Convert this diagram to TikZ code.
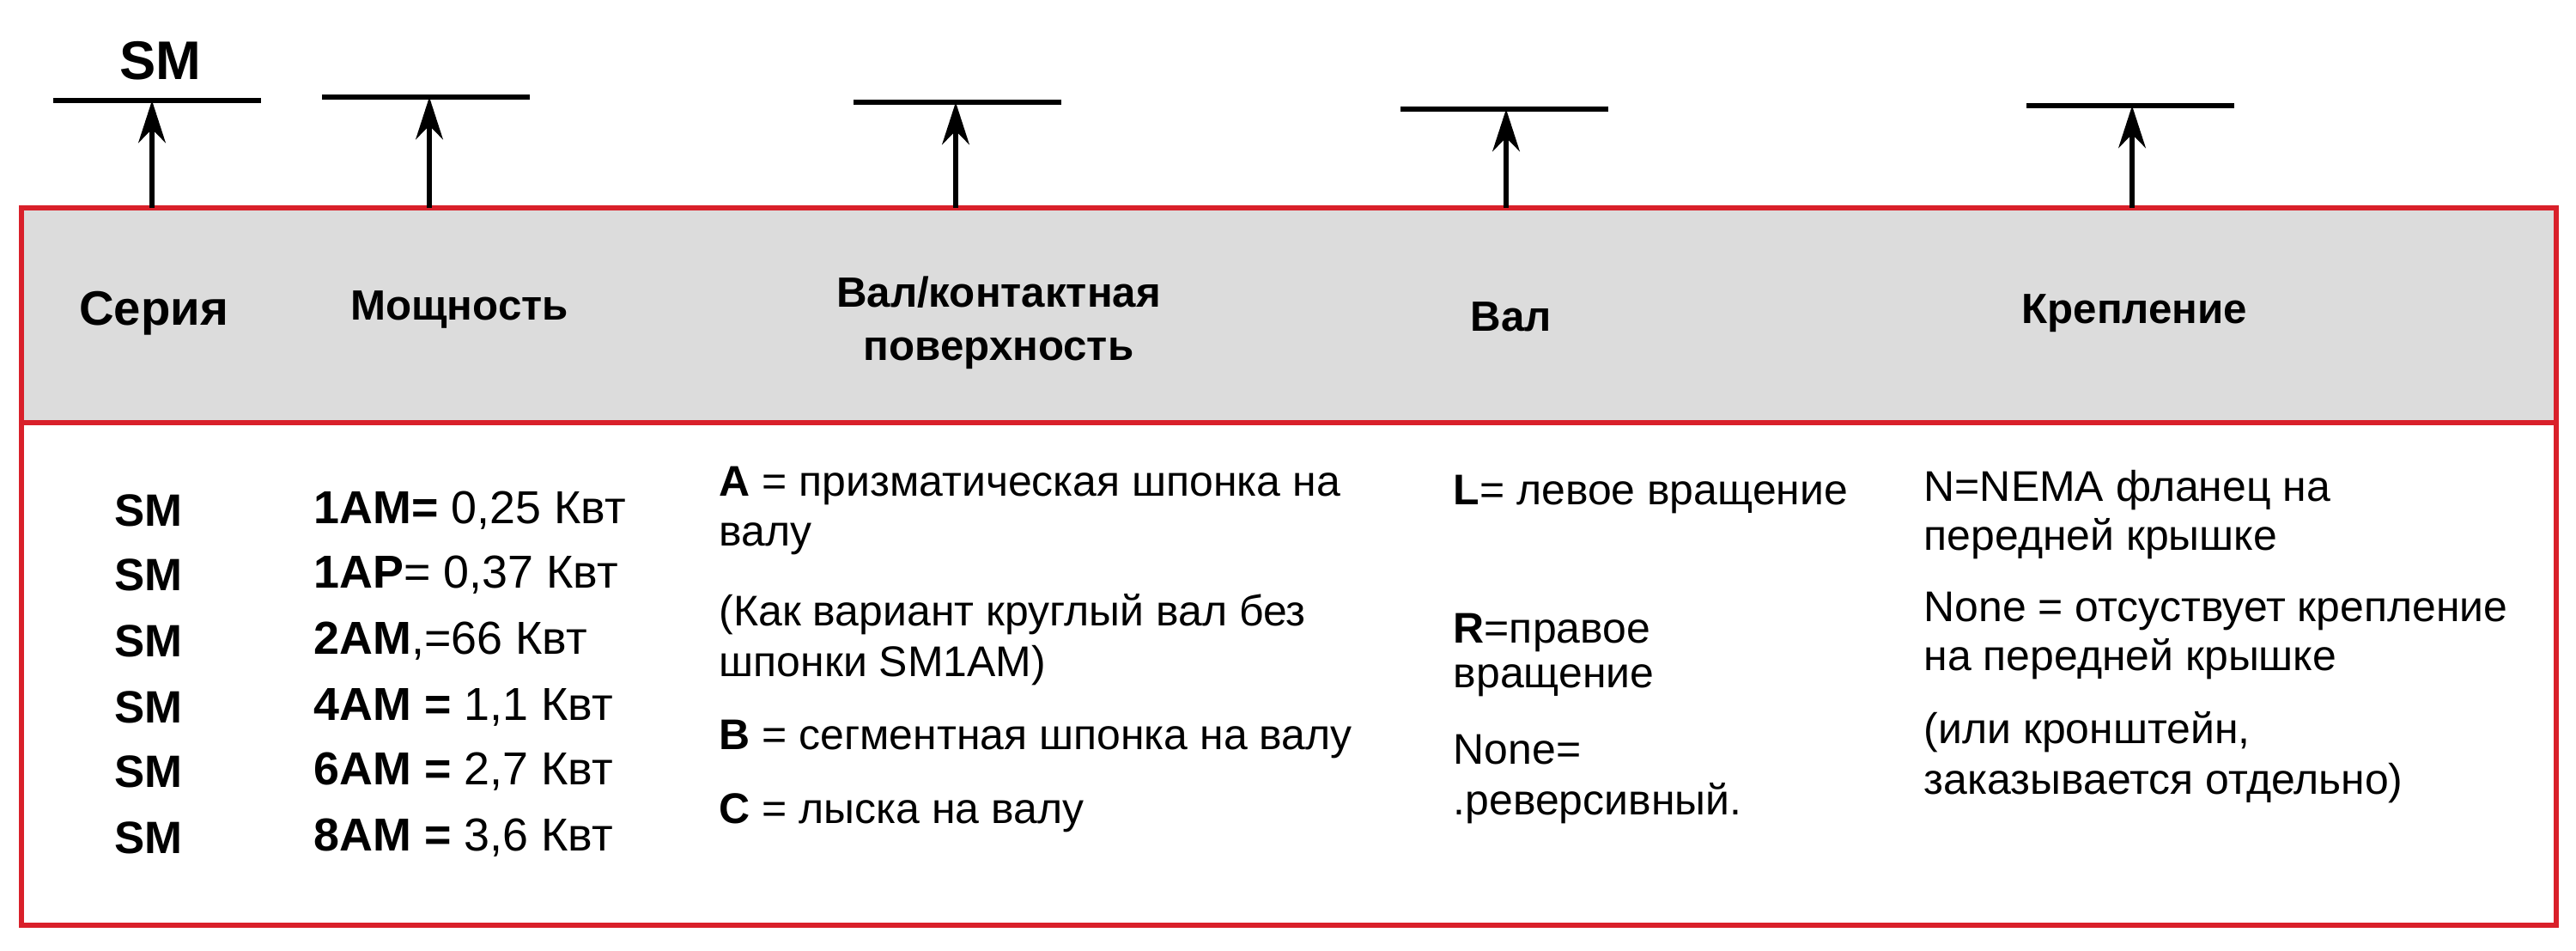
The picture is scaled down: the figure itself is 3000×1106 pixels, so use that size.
\documentclass[tikz,border=0pt]{standalone}
\usepackage{fontspec}
\setmainfont{Liberation Sans}
\usetikzlibrary{arrows.meta}
\definecolor{rd}{HTML}{D9202A}
\definecolor{gr}{HTML}{DCDCDC}
\begin{document}
\begin{tikzpicture}[x=0.01cm,y=-0.01cm,
  txt/.style={font=\fontsize{14.2}{17}\selectfont,anchor=west,inner sep=0},
  txtb/.style={font=\fontsize{15.3}{17}\selectfont,anchor=west,inner sep=0},
  hd/.style={font=\fontsize{14}{17.5}\selectfont\bfseries,align=center,inner sep=0},
  bl/.style={line width=1.6pt},
  ar/.style={line width=1.6pt,-{Stealth[length=14pt,width=9pt]}}]
\useasboundingbox (0,0) rectangle (3000,1106);
\fill[gr] (25,244) rectangle (2977,492);
\draw[rd,line width=1.6pt] (25,242) rectangle (2977,1077);
\draw[rd,line width=1.6pt] (25,492) -- (2977,492);
\node[hd,font=\fontsize{18}{20}\selectfont\bfseries] (sm) at (187,71) {SM};
\foreach \a/\b/\y/\x [count=\i] in {62/304/117/177,375/617/113/500,994/1236/119/1113,1631/1873/127/1754,2360/2602/123/2483}{
  \coordinate (l\i) at (\x,\y);
  \coordinate (s\i) at (\x,242);
  \draw[bl] (\a,\y) -- (\b,\y);
  \draw[ar] (s\i) -- (l\i);
}
\node[hd,font=\fontsize{16}{18}\selectfont\bfseries] (h1) at (179,365) {Серия};
\node[hd] (h2) at (535,360) {Мощность};
\node[hd] (h3) at (1163,376) {Вал/контактная\\поверхность};
\node[hd] (h4) at (1760,369) {Вал};
\node[hd] (h5) at (2486,365) {Крепление};
\foreach \y/\t [count=\i] in {594/{\textbf{1AM=} 0,25 Квт},669/{\textbf{1AP}= 0,37 Квт},746/{\textbf{2AM},=66 Квт},823/{\textbf{4AM =} 1,1 Квт},898/{\textbf{6AM =} 2,7 Квт},975/{\textbf{8AM =} 3,6 Квт}}{
  \node[txtb,anchor=center,font=\fontsize{15}{17}\selectfont\bfseries] (sm\i) at (173,\y) {SM};
  \node[txtb] (p\i) at (365,\y) {\t};
}
\node[txt] (c1) at (837,565) {\textbf{A} = призматическая шпонка на};
\node[txt] (c2) at (837,627) {валу};
\node[txt] (c3) at (837,715) {(Как вариант круглый вал без};
\node[txt] (c4) at (837,775) {шпонки SM1AM)};
\node[txt] (c5) at (837,860) {\textbf{B} = сегментная шпонка на валу};
\node[txt] (c6) at (837,946) {\textbf{C} = лыска на валу};
\node[txt] (d1) at (1692,575) {\textbf{L}= левое вращение};
\node[txt] (d2) at (1692,736) {\textbf{R}=правое};
\node[txt] (d3) at (1692,792) {вращение};
\node[txt] (d4) at (1692,873) {None=};
\node[txt] (d5) at (1692,935) {.реверсивный.};
\node[txt] (e1) at (2240,571) {N=NEMA фланец на};
\node[txt] (e2) at (2240,627) {передней крышке};
\node[txt] (e3) at (2240,711) {None = отсуствует крепление};
\node[txt] (e4) at (2240,767) {на передней крышке};
\node[txt] (e5) at (2240,852) {(или кронштейн,};
\node[txt] (e6) at (2240,912) {заказывается отдельно)};
\end{tikzpicture}
\end{document}
